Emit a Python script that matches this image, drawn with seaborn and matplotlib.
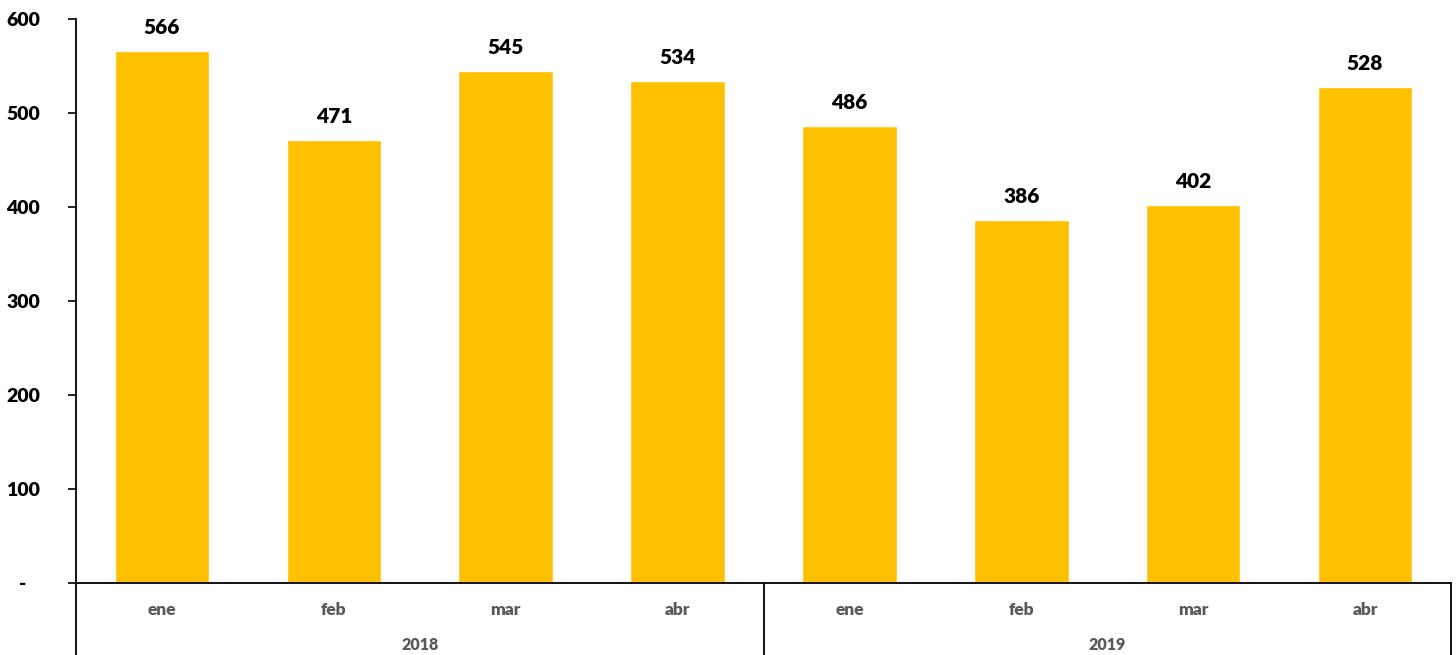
import matplotlib
matplotlib.use("Agg")
import matplotlib.pyplot as plt
import seaborn as sns
import pandas as pd

years = ["2018", "2019"]
months = ["ene", "feb", "mar", "abr"]
values = [566, 471, 545, 534, 486, 386, 402, 528]
yticks = [0, 100, 200, 300, 400, 500, 600]
ytick_labels = ["-   ", "100", "200", "300", "400", "500", "600"]

sns.set_theme(style="white")
plt.rcParams['font.family'] = ['Lato', 'DejaVu Sans']

keys = [f"{y}-{m}" for y in years for m in months]
df = pd.DataFrame({"key": keys, "value": values})

fig = plt.figure(figsize=(14.56, 6.55), dpi=100)
ax = fig.add_axes([76/1456, 1-583/655, (1451-76)/1456, (583-19)/655])

sns.barplot(data=df, x="key", y="value", order=keys, color="#FFC000",
            saturation=1, width=0.55, ax=ax)

ax.set_ylim(0, 600)
ax.set_xlim(-0.5, len(keys)-0.5)
ax.set_yticks(yticks)
ax.set_yticklabels(ytick_labels, fontsize=14, fontweight="heavy", color="black")
ax.set_xticks(range(len(keys)))
ax.set_xticklabels([m for y in years for m in months], fontsize=12.5,
                   fontweight="heavy", color="#595959")
ax.tick_params(axis="x", length=0, pad=14)
ax.tick_params(axis="y", length=6, width=1.2, color="black", direction="out", left=True, pad=20)
ax.set_xlabel("")
ax.set_ylabel("")

for s in ["top", "right"]:
    ax.spines[s].set_visible(False)
for s in ["left", "bottom"]:
    ax.spines[s].set_color("black")
    ax.spines[s].set_linewidth(1.3)

for i, v in enumerate(values):
    ax.annotate(str(v), (i, v), xytext=(0, 10), textcoords="offset points",
                ha="center", va="bottom", fontsize=15, fontweight="heavy", color="black")

trans = ax.get_xaxis_transform()
n = len(months)
for xb in [-0.5, n-0.5, 2*n-0.5]:
    ax.plot([xb, xb], [0, -0.14], transform=trans, color="black", lw=1.3, clip_on=False)
for gi, y in enumerate(years):
    ax.text(gi*n + (n-1)/2, -0.11, y, transform=trans, ha="center", va="center",
            fontsize=11.5, fontweight="heavy", color="#595959")

fig.savefig("out.png", dpi=100)
